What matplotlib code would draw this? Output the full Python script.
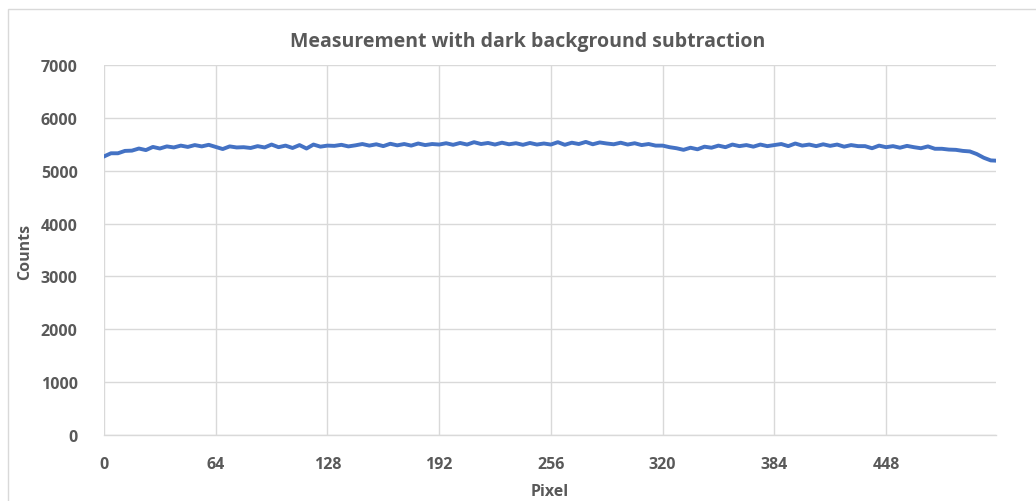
import matplotlib
matplotlib.use("Agg")
from matplotlib import pyplot as plt
from matplotlib.patches import Rectangle
import numpy as np

# Counts every 4 pixels (0..508) plus the last pixel (511)
pixel = list(range(0, 512, 4)) + [511]
counts = [
    5270, 5330, 5330, 5375, 5380, 5420, 5390, 5450, 5420, 5460, 5440, 5475, 5450, 5485, 5460, 5490,
    5450, 5410, 5460, 5440, 5445, 5430, 5465, 5440, 5495, 5445, 5475, 5430, 5485, 5420, 5495, 5455,
    5475, 5470, 5490, 5460, 5480, 5505, 5475, 5500, 5465, 5510, 5480, 5505, 5475, 5515, 5485, 5505,
    5495, 5520, 5490, 5525, 5495, 5540, 5505, 5525, 5495, 5530, 5500, 5520, 5490, 5525, 5495, 5515,
    5495, 5540, 5490, 5530, 5505, 5545, 5500, 5535, 5515, 5500, 5530, 5495, 5520, 5485, 5505, 5475,
    5475, 5445, 5425, 5395, 5435, 5405, 5455, 5435, 5475, 5445, 5495, 5465, 5485, 5455, 5495, 5465,
    5485, 5505, 5465, 5515, 5475, 5495, 5465, 5500, 5470, 5495, 5455, 5485, 5465, 5465, 5425, 5475,
    5445, 5465, 5435, 5470, 5445, 5425, 5460, 5415, 5415, 5400, 5395, 5375, 5365, 5315, 5245, 5195,
    5190,
]
x_ticks = [0, 64, 128, 192, 256, 320, 384, 448]
y_ticks = [0, 1000, 2000, 3000, 4000, 5000, 6000, 7000]

title = "Measurement with dark background subtraction"
text_color = "#595959"
grid_color = "#d9d9d9"
line_color = "#4472c4"

plt.rcParams['font.family'] = ['Open Sans', 'DejaVu Sans']

W, H = 1036, 502
fig = plt.figure(figsize=(W / 100, H / 100), dpi=100)

# chart area border (only top and left visible in the crop)
fig.patches.append(Rectangle((8 / W, -0.05), 1.1, (H - 10) / H + 0.05,
                             transform=fig.transFigure, fill=False,
                             edgecolor=grid_color, linewidth=1.0))

ax = fig.add_axes([104 / W, (H - 436) / H, (996 - 104) / W, (436 - 66) / H])
ax.plot(pixel, counts, color=line_color, linewidth=2.8, solid_joinstyle='round')

ax.set_xlim(0, 511)
ax.set_ylim(0, 7000)
ax.set_xticks(x_ticks)
ax.set_yticks(y_ticks)
ax.grid(True, color=grid_color, linewidth=1.0)
ax.set_axisbelow(True)
for side in ['top', 'right', 'left']:
    ax.spines[side].set_visible(False)
ax.spines['bottom'].set_color(grid_color)
ax.spines['bottom'].set_linewidth(1.0)
ax.tick_params(length=0, labelsize=11.5, labelcolor=text_color, pad=15)
ax.tick_params(axis='y', pad=19)
for lab in ax.get_xticklabels() + ax.get_yticklabels():
    lab.set_fontweight('bold')

fig.text(528 / W, (H - 42) / H, title, ha='center', va='center',
         fontsize=14, fontweight='bold', color=text_color)
fig.text(25 / W, (H - 252) / H, "Counts", ha='center', va='center',
         rotation=90, fontsize=11.5, fontweight='bold', color=text_color)
fig.text(550 / W, (H - 492) / H, "Pixel", ha='center', va='center',
         fontsize=11.5, fontweight='bold', color=text_color)

fig.savefig("out.png", dpi=100)
